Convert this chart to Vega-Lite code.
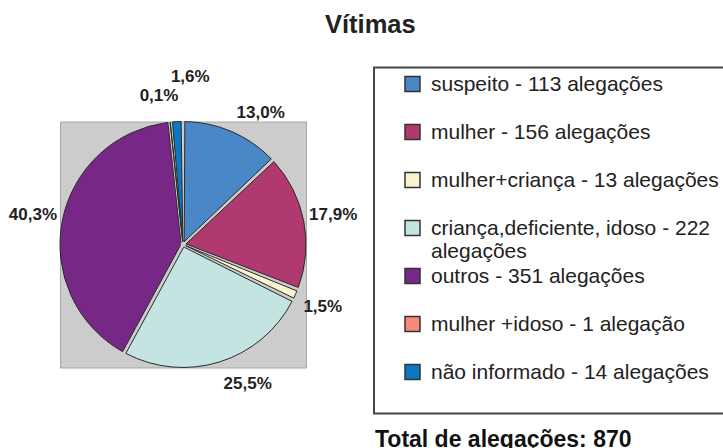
{
  "$schema": "https://vega.github.io/schema/vega-lite/v6.json",
  "padding": {"left": 8, "top": 12.5, "right": 0, "bottom": 0},
  "background": "white",
  "bounds": "flush",
  "title": {"text": "Vítimas", "font": "Liberation Sans", "fontSize": 25.5, "fontWeight": "bold", "color": "#222222", "anchor": "start", "frame": "group", "dx": 265, "offset": 28.5},
  "config": {"font": "Liberation Sans"},
  "vconcat": [
    {
      "width": 246,
      "height": 246,
      "view": {"fill": "#cccccc", "stroke": "#a6a6a6", "strokeWidth": 1},
      "title": {"text": "Total de alegações: 870", "orient": "bottom", "anchor": "start", "frame": "group", "dx": 315, "offset": 37, "font": "Liberation Sans", "fontSize": 23, "fontWeight": "bold", "color": "#111111"},
      "data": {"values": [
        {"idx": 1, "label": "suspeito - 113 alegações", "value": 113, "pct": "13,0%"},
        {"idx": 2, "label": "mulher - 156 alegações", "value": 156, "pct": "17,9%"},
        {"idx": 3, "label": "mulher+criança - 13 alegações", "value": 13, "pct": "1,5%"},
        {"idx": 4, "label": "criança,deficiente, idoso - 222 alegações", "value": 222, "pct": "25,5%"},
        {"idx": 5, "label": "outros - 351 alegações", "value": 351, "pct": "40,3%"},
        {"idx": 6, "label": "mulher +idoso - 1 alegação", "value": 1, "pct": "0,1%"},
        {"idx": 7, "label": "não informado - 14 alegações", "value": 14, "pct": "1,6%"}
      ]},
      "encoding": {
        "theta": {"field": "value", "type": "quantitative", "stack": true},
        "order": {"field": "idx", "type": "quantitative"}
      },
      "layer": [
        {
          "mark": {"type": "arc", "outerRadius": 123, "innerRadius": 3, "padAngle": 0.03, "stroke": "#2b2b2b", "strokeWidth": 1},
          "encoding": {
            "color": {
              "field": "label",
              "type": "nominal",
              "scale": {
                "domain": ["suspeito - 113 alegações", "mulher - 156 alegações", "mulher+criança - 13 alegações", "criança,deficiente, idoso - 222 alegações", "outros - 351 alegações", "mulher +idoso - 1 alegação", "não informado - 14 alegações"],
                "range": ["#4a87c6", "#b0396f", "#fbf3cd", "#c3e4e0", "#772887", "#f58a7d", "#0a78c2"]
              },
              "legend": {
                "orient": "none",
                "legendX": 314,
                "legendY": -54,
                "title": " ",
                "titleOrient": "bottom",
                "titleFontSize": 12,
                "titlePadding": 13,
                "padding": 6,
                "strokeColor": "#444444",
                "fillColor": "white",
                "symbolType": "square",
                "symbolSize": 225,
                "symbolStrokeColor": "#333333",
                "symbolStrokeWidth": 1.5,
                "symbolOffset": 22,
                "symbolOpacity": 1,
                "labelFont": "Liberation Sans",
                "labelFontSize": 21,
                "labelColor": "#222222",
                "labelOffset": 8,
                "labelLimit": 400,
                "labelBaseline": "alphabetic",
                "rowPadding": 3,
                "gridAlign": "all",
                "labelExpr": "datum.label == 'criança,deficiente, idoso - 222 alegações' ? ['criança,deficiente, idoso - 222', 'alegações'] : datum.label",
                "encode": {
                  "legend": {"update": {"strokeWidth": {"value": 2}}},
                  "labels": {"update": {"dy": {"value": 7}, "lineHeight": {"value": 23}}}
                }
              }
            }
          }
        },
        {
          "mark": {
            "type": "text",
            "radius": 153,
            "font": "Liberation Sans",
            "fontSize": 17,
            "fontWeight": "bold",
            "color": "#222222",
            "dx": {"expr": "datum.idx == 1 ? 17 : datum.idx == 4 ? 19 : datum.idx == 7 ? 15 : datum.idx == 6 ? -8 : 0"},
            "dy": {"expr": "datum.idx == 1 ? 9 : datum.idx == 4 ? -7 : datum.idx == 7 ? -15 : datum.idx == 6 ? 4 : 0"}
          },
          "encoding": {"text": {"field": "pct", "type": "nominal"}}
        }
      ]
    }
  ]
}
